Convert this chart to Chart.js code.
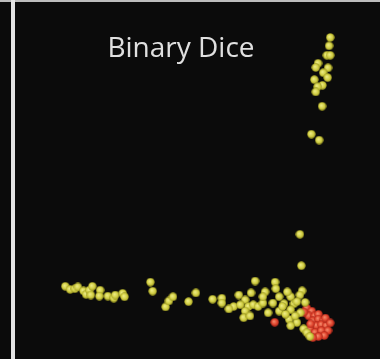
<!DOCTYPE html>
<html>
<head>
<meta charset="utf-8">
<script src="https://cdn.jsdelivr.net/npm/chart.js@4"></script>
<style>
  html, body { margin: 0; padding: 0; background: #0b0b0b; }
  #wrap { position: relative; width: 380px; height: 359px; overflow: hidden; background: #0b0b0b; }
  #topline { position: absolute; left: 0; top: 0; width: 380px; height: 2px; background: #bdbdbd; }
  #divider { position: absolute; left: 11px; top: 0; width: 4px; height: 359px; background: #e4e4e4; }
  #title {
    position: absolute; left: 81px; top: 32px; width: 200px; text-align: center;
    font-family: "Open Sans", sans-serif; font-size: 28px; line-height: 28px; color: #e0e0e0;
  }
  #box { position: absolute; left: 0; top: 0; width: 380px; height: 359px; }
</style>
</head>
<body>
<div id="wrap">
  <div id="topline"></div>
  <div id="divider"></div>
  <div id="box"><canvas id="dice-chart"></canvas></div>
  <div id="title">Binary Dice</div>
</div>
<script>
// yellow cases: x and y (0..1 on both axes)
const yellowX = [
  0.879, 0.876, 0.870, 0.879, 0.846, 0.840, 0.873, 0.860, 0.872, 0.836, 0.858, 0.845, 0.840, 0.857, 0.828, 0.849,
  0.797, 0.801,
  0.163, 0.176, 0.189, 0.197, 0.212, 0.219, 0.228, 0.236, 0.232, 0.257, 0.255, 0.278, 0.294, 0.298, 0.318, 0.323,
  0.393, 0.399, 0.434, 0.443, 0.454, 0.496, 0.516, 0.561, 0.586, 0.586,
  0.676, 0.730, 0.665, 0.703, 0.632, 0.649, 0.618, 0.605, 0.636, 0.658, 0.671, 0.684, 0.697, 0.649, 0.645, 0.662,
  0.711, 0.724, 0.697, 0.803, 0.797, 0.772, 0.741, 0.754, 0.781, 0.741, 0.772, 0.798, 0.768, 0.789, 0.772, 0.807,
  0.816, 0.824, 0.758, 0.784, 0.750, 0.732, 0.789, 0.763, 0.811,
];
const yellowY = [
  0.907, 0.883, 0.856, 0.856, 0.833, 0.821, 0.820, 0.806, 0.792, 0.786, 0.770, 0.766, 0.751, 0.710, 0.630, 0.613,
  0.343, 0.253,
  0.194, 0.185, 0.187, 0.192, 0.181, 0.171, 0.183, 0.194, 0.169, 0.183, 0.166, 0.166, 0.160, 0.169, 0.174, 0.164,
  0.206, 0.180, 0.135, 0.152, 0.164, 0.150, 0.175, 0.157, 0.160, 0.146,
  0.209, 0.206, 0.175, 0.178, 0.169, 0.155, 0.136, 0.129, 0.141, 0.136, 0.141, 0.136, 0.146, 0.123, 0.104, 0.109,
  0.118, 0.146, 0.164, 0.181, 0.169, 0.164, 0.164, 0.144, 0.144, 0.123, 0.127, 0.118, 0.099, 0.090, 0.081, 0.072,
  0.061, 0.050, 0.114, 0.109, 0.136, 0.187, 0.150, 0.178, 0.148,
];

// red cases
const redX = [
  0.729, 0.816, 0.829, 0.821, 0.837, 0.847, 0.832, 0.847, 0.860, 0.842,
  0.855, 0.868, 0.824, 0.838, 0.855, 0.873, 0.863, 0.847, 0.832,
  0.826, 0.866, 0.879, 0.808,
];
const redY = [
  0.091, 0.131, 0.123, 0.109, 0.109, 0.114, 0.095, 0.100, 0.095, 0.081,
  0.084, 0.081, 0.072, 0.062, 0.067, 0.067, 0.053, 0.050, 0.047,
  0.086, 0.103, 0.089, 0.120,
];

const toPoints = (xs, ys) => xs.map((x, i) => ({ x: x, y: ys[i] }));

// small shaded ball used as the point style
function makeBall(light, mid, dark) {
  const size = 9;
  const c = document.createElement("canvas");
  c.width = size;
  c.height = size;
  const g = c.getContext("2d");
  const grad = g.createRadialGradient(3.6, 3.6, 0.3, 4.5, 4.5, 4.5);
  grad.addColorStop(0, light);
  grad.addColorStop(0.6, mid);
  grad.addColorStop(1, dark);
  g.fillStyle = grad;
  g.beginPath();
  g.arc(4.5, 4.5, 4.2, 0, Math.PI * 2);
  g.fill();
  return c;
}

const yellowBall = makeBall("#eeec86", "#d0cd42", "#8f8b1c");
const redBall = makeBall("#f58a6c", "#df432c", "#a32218");

const ctxDice = document.getElementById("dice-chart");

new Chart(ctxDice, {
  type: "scatter",
  data: {
    datasets: [
      {
        label: "yellow",
        data: toPoints(yellowX, yellowY),
        pointStyle: yellowBall,
      },
      {
        label: "red",
        data: toPoints(redX, redY),
        pointStyle: redBall,
      },
    ],
  },
  options: {
    responsive: true,
    maintainAspectRatio: false,
    animation: false,
    layout: { padding: 0 },
    scales: {
      x: { type: "linear", min: 0, max: 1, display: false },
      y: { type: "linear", min: 0, max: 1, display: false },
    },
    plugins: {
      legend: { display: false },
      tooltip: { enabled: false },
    },
  },
});
</script>
</body>
</html>
